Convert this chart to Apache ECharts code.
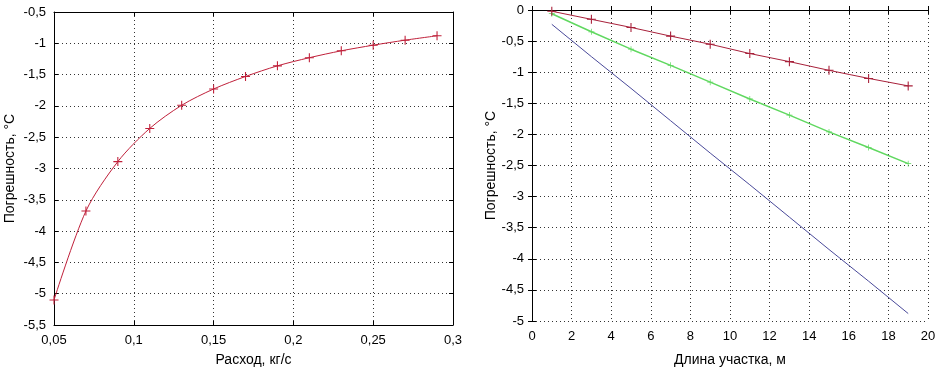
<!DOCTYPE html>
<html>
<head>
<meta charset="utf-8">
<script src="https://cdn.jsdelivr.net/npm/echarts@6/dist/echarts.min.js"></script>
<style>
html, body { margin: 0; padding: 0; background: #fff; }
#main { width: 940px; height: 371px; }
</style>
</head>
<body>
<div id="main"></div>
<script>
// левый график: погрешность от расхода
var flowX = [0.05, 0.07, 0.09, 0.11, 0.13, 0.15, 0.17, 0.19, 0.21, 0.23, 0.25, 0.27, 0.29];
var flowErr = [-5.1, -3.68, -2.89, -2.36, -1.99, -1.73, -1.53, -1.36, -1.23, -1.12, -1.03, -0.95, -0.88];

// правый график: погрешность от длины участка
var lenX = [1, 3, 5, 7, 9, 11, 13, 15, 17, 19];
var errRed = [-0.02, -0.15, -0.28, -0.42, -0.55, -0.70, -0.83, -0.97, -1.10, -1.22];
var errGreen = [-0.06, -0.35, -0.63, -0.89, -1.16, -1.43, -1.69, -1.96, -2.21, -2.47];
var errBlue = [-0.23, -0.75, -1.26, -1.78, -2.30, -2.81, -3.33, -3.85, -4.36, -4.88];

var font = 'Liberation Sans, Arial, sans-serif';
var plus = 'path://M4.4,0h1.2v10h-1.2zM0,4.4h10v1.2h-10z';

function fmt(v) {
	return String(+v.toFixed(2)).replace('.', ',');
}
function pairs(xs, ys) {
	var out = [];
	for (var i = 0; i < xs.length; i++) out.push([xs[i], ys[i]]);
	return out;
}

var gridLine = { show: true, lineStyle: { color: '#333', type: [1, 3], width: 1 } };
var label = { color: '#000', fontFamily: font, fontSize: 13, formatter: fmt };
var nameStyle = { color: '#000', fontFamily: font, fontSize: 14 };

function mainX(idx, min, max, step, name, gap) {
	return {
		type: 'value', gridIndex: idx, min: min, max: max, interval: step,
		name: name, nameLocation: 'middle', nameGap: gap, nameTextStyle: nameStyle,
		axisLine: { show: true, lineStyle: { color: '#000' } },
		axisTick: { show: true, inside: true, length: 4, lineStyle: { color: '#000' } },
		axisLabel: Object.assign({ margin: 9 }, label), splitLine: gridLine
	};
}
function topX(idx, min, max, step) {
	return {
		type: 'value', gridIndex: idx, position: 'top', min: min, max: max, interval: step,
		axisLine: { show: true, lineStyle: { color: '#000' } },
		axisTick: { show: true, inside: true, length: 4, lineStyle: { color: '#000' } },
		axisLabel: { show: false }, splitLine: { show: false }
	};
}
function mainY(idx, min, max, step, gap) {
	return {
		type: 'value', gridIndex: idx, min: min, max: max, interval: step,
		name: 'Погрешность, °C', nameLocation: 'middle', nameGap: gap, nameTextStyle: nameStyle,
		axisLine: { show: true, lineStyle: { color: '#000' } },
		axisTick: { show: true, inside: true, length: 4, lineStyle: { color: '#000' } },
		axisLabel: label, splitLine: gridLine
	};
}
function rightY(idx, min, max, step) {
	return {
		type: 'value', gridIndex: idx, position: 'right', min: min, max: max, interval: step,
		axisLine: { show: true, lineStyle: { color: '#000' } },
		axisTick: { show: true, inside: true, length: 4, lineStyle: { color: '#000' } },
		axisLabel: { show: false }, splitLine: { show: false }
	};
}

var option = {
	animation: false,
	backgroundColor: '#fff',
	grid: [
		{ left: 54, top: 12, width: 399, height: 313, outerBoundsMode: 'none' },
		{ left: 532, top: 10, width: 396, height: 311, outerBoundsMode: 'none' }
	],
	xAxis: [
		mainX(0, 0.05, 0.3, 0.05, 'Расход, кг/с', 28),
		mainX(1, 0, 20, 2, 'Длина участка, м', 32),
		topX(0, 0.05, 0.3, 0.05),
		topX(1, 0, 20, 2)
	],
	yAxis: [
		mainY(0, -5.5, -0.5, 0.5, 37),
		mainY(1, -5, 0, 0.5, 32),
		rightY(0, -5.5, -0.5, 0.5),
		rightY(1, -5, 0, 0.5)
	],
	series: [{
		name: 'Расход', type: 'line', xAxisIndex: 0, yAxisIndex: 0,
		data: pairs(flowX, flowErr), smooth: 0.3,
		symbol: plus, symbolSize: 9,
		lineStyle: { color: '#c0203a', width: 1 },
		itemStyle: { color: '#c0203a' }
	}, {
		name: 'Синий', type: 'line', xAxisIndex: 1, yAxisIndex: 1,
		data: pairs(lenX, errBlue), showSymbol: false, symbol: 'none',
		lineStyle: { color: '#4a4a9a', width: 1 }
	}, {
		name: 'Зелёный', type: 'line', xAxisIndex: 1, yAxisIndex: 1,
		data: pairs(lenX, errGreen),
		symbol: plus, symbolSize: 6,
		lineStyle: { color: '#60d860', width: 1.5 },
		itemStyle: { color: '#60d860' }
	}, {
		name: 'Красный', type: 'line', xAxisIndex: 1, yAxisIndex: 1,
		data: pairs(lenX, errRed),
		symbol: plus, symbolSize: 9,
		lineStyle: { color: '#a8203a', width: 1 },
		itemStyle: { color: '#a8203a' }
	}]
};

var chart = echarts.init(document.getElementById('main'));
chart.setOption(option);
</script>
</body>
</html>
